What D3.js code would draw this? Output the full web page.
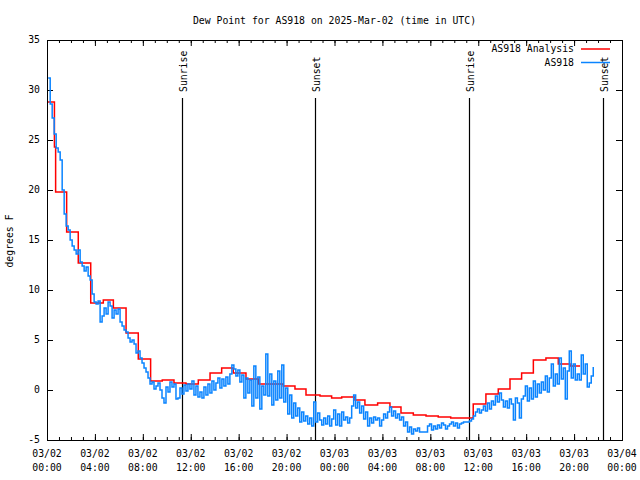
<!DOCTYPE html>
<html><head><meta charset="utf-8">
<script src="https://cdn.jsdelivr.net/npm/d3@7"></script>
<style>body{margin:0;background:#fff}svg{display:block}</style>
</head><body>
<svg id="c" width="640" height="480"></svg>
<script>
// ---------------- data ----------------
const chartTitle = "Dew Point for AS918 on 2025-Mar-02 (time in UTC)";
const yLabel = "degrees F";
const startTime = "2025-03-02T00:00:00Z";
const endTime = "2025-03-04T00:00:00Z";
const yTicks = [-5, 0, 5, 10, 15, 20, 25, 30, 35];
const seriesNames = ["AS918 Analysis", "AS918"];

// analysis (hours after start, value held until the next point)
const analysisHours = [0.08, 0.62, 0.72, 1.64, 2.61, 3.65, 4.70, 5.54, 6.60, 7.62, 8.65, 9.62, 10.60, 11.60, 12.63, 13.61, 14.58, 15.55, 16.61, 17.64, 19.72, 20.70, 21.62, 22.79, 23.76, 24.60, 25.71, 26.54, 27.60, 28.63, 29.55, 30.58, 31.64, 32.66, 33.70, 35.58, 36.64, 37.67, 38.65, 39.62, 40.60, 41.65, 42.68, 43.66, 44.50];
const analysisValues = [28.8, 24.3, 19.8, 15.8, 12.7, 8.7, 9.0, 8.2, 5.7, 3.1, 0.9, 1.0, 0.7, 0.6, 1.0, 1.7, 2.2, 1.7, 1.1, 0.6, 0.4, 0.1, -0.5, -0.6, -0.8, -0.7, -1.0, -1.5, -1.3, -1.7, -2.3, -2.5, -2.6, -2.7, -2.8, -1.4, -0.4, 0.1, 1.1, 1.7, 3.0, 3.2, 2.6, 2.4, 2.4];

// observations: every 10 minutes starting 00:06 UTC
const obsStartMinutes = 6;
const obsStepMinutes = 10;
const obsValues = [
 31.2, 28.6, 27.2, 25.6, 24.2, 23.8, 23.0, 20.0, 17.6, 16.4, 16.0, 15.0, 14.4, 14.0, 13.6, 14.0, 12.8, 12.4, 11.9, 12.3,
 11.4, 11.0, 9.6, 8.8, 8.6, 8.9, 6.8, 7.4, 8.2, 7.6, 8.8, 8.4, 7.2, 8.0, 7.6, 8.1, 6.8, 6.4, 6.0, 5.8,
 5.2, 4.8, 5.0, 4.6, 3.7, 3.9, 3.2, 2.7, 2.2, 1.8, 1.2, 0.6, 0.8, 0.1, 0.4, 0.7, 0.0, -0.8, -1.3, 0.3,
 -0.2, 0.8, 0.3, 0.6, -0.9, -0.8, 0.2, -0.4, 0.5, -0.1, 0.6, 0.1, 0.9, -0.5, 0.4, -0.7, -0.2, -0.8, 0.3, -0.5,
 0.6, -0.3, 0.9, 0.0, 0.7, 1.2, 0.2, 1.1, 0.4, 1.3, 0.6, 1.6, 2.5, 2.1, 1.4, 2.0, 0.8, 1.5, -0.8, 1.2,
 -0.3, 1.0, -1.6, 2.4, -0.8, 1.3, -1.9, 0.4, -0.5, 3.6, -0.6, 1.6, -1.5, 0.9, -1.0, 1.9, -0.8, 2.5, -1.2, 0.2,
 -2.4, -0.5, -2.8, -1.3, -2.6, -1.8, -3.2, -2.2, -3.1, -2.6, -3.4, -2.8, -3.6, -1.2, -3.2, -2.3, -3.0, -3.5, -2.8, -3.4,
 -2.6, -3.6, -2.9, -2.0, -3.5, -2.4, -3.6, -2.2, -3.0, -2.7, -3.3, -2.8, -1.6, -0.5, -1.8, -1.2, -2.3, -1.6, -2.9, -2.2,
 -3.6, -2.8, -3.3, -2.7, -3.0, -2.8, -3.6, -3.0, -2.4, -2.8, -2.2, -1.7, -2.6, -2.1, -2.8, -2.4, -3.0, -2.7, -3.6, -3.2,
 -4.2, -3.7, -4.4, -3.9, -4.1, -3.8, -4.2, -4.2, -4.2, -4.2, -3.6, -3.4, -4.0, -3.6, -3.9, -3.5, -3.8, -3.3, -3.5, -3.9,
 -3.6, -3.4, -3.2, -3.6, -3.3, -3.8, -3.4, -3.3, -3.2, -3.2, -3.2, -3.1, -2.9, -2.6, -2.2, -1.9, -2.3, -2.0, -1.6, -2.1,
 -1.3, -1.9, -1.1, -1.5, -0.6, -1.2, -0.3, -1.0, -1.7, -1.1, -1.8, -0.9, -1.4, -3.0, -0.8, -1.3, -2.8, -0.9, -0.6, 0.4,
 -1.1, 0.2, -0.9, 0.9, -0.7, 0.6, -0.3, 0.8, 0.0, 1.4, -0.2, 1.2, 2.6, 0.4, 1.6, 0.6, 3.2, 1.1, 2.2, -0.9,
 1.9, 3.9, 1.2, 2.6, 1.0, 1.6, 1.0, 3.5, 1.6, 2.6, 0.3, 0.7, 1.4, 2.3
];

const eventNames = ["Sunrise", "Sunset", "Sunrise", "Sunset"];
const eventHours = [11.31, 22.40, 35.25, 46.44];

// ---------------- styles ----------------
const FONT = "'DejaVu Sans Mono', 'Liberation Mono', monospace";
const FS = 9.8;
const colorAnalysis = "#ff0000";
const colorObs = "#0a84ff";

// ---------------- layout ----------------
const L = 47, R = 622, T = 40, B = 440;
const svg = d3.select("#c");
const t0 = new Date(startTime), t1 = new Date(endTime);
const hour = 3600 * 1000;
const x = d3.scaleUtc().domain([t0, t1]).range([L, R]);
const y = d3.scaleLinear().domain([-5, 35]).range([B, T]);

const analysis = analysisHours.map((h, i) => ({ t: new Date(+t0 + h * hour), v: analysisValues[i] }));
const obs = obsValues.map((v, i) => ({ t: new Date(+t0 + (obsStartMinutes + i * obsStepMinutes) * 60000), v }));

svg.append("rect").attr("width", 640).attr("height", 480).attr("fill", "#fff");

// axes with inward ticks (major + minor), mirrored
function styleAxis(g) {
  g.select(".domain").remove();
  g.selectAll("line").attr("stroke", "#000").attr("stroke-width", 1);
  g.selectAll("text").remove();
}
const major = d3.utcHour.every(4), minor = d3.utcHour.every(1);
svg.append("g").attr("transform", `translate(0,${B})`).call(d3.axisBottom(x).ticks(minor).tickSize(-3)).call(styleAxis);
svg.append("g").attr("transform", `translate(0,${B})`).call(d3.axisBottom(x).ticks(major).tickSize(-6)).call(styleAxis);
svg.append("g").attr("transform", `translate(0,${T})`).call(d3.axisTop(x).ticks(minor).tickSize(-3)).call(styleAxis);
svg.append("g").attr("transform", `translate(0,${T})`).call(d3.axisTop(x).ticks(major).tickSize(-6)).call(styleAxis);
svg.append("g").attr("transform", `translate(${L},0)`).call(d3.axisLeft(y).tickValues(yTicks).tickSize(-6)).call(styleAxis);
svg.append("g").attr("transform", `translate(${R},0)`).call(d3.axisRight(y).tickValues(yTicks).tickSize(-6)).call(styleAxis);

// y tick labels
svg.append("g").selectAll("text").data(yTicks).join("text")
  .attr("x", L - 7).attr("y", d => y(d)).attr("dy", "0.35em")
  .attr("text-anchor", "end").attr("font-family", FONT).attr("font-size", FS)
  .text(d => d);

// x tick labels (two lines)
const fDate = d3.utcFormat("%m/%d"), fTime = d3.utcFormat("%H:%M");
const xl = svg.append("g").selectAll("text").data(x.ticks(major)).join("text")
  .attr("text-anchor", "middle").attr("font-family", FONT).attr("font-size", FS);
xl.append("tspan").attr("x", d => x(d)).attr("y", 457).text(d => fDate(d));
xl.append("tspan").attr("x", d => x(d)).attr("y", 471).text(d => fTime(d));

// sunrise / sunset
eventHours.forEach((h, i) => {
  const xx = Math.round(x(new Date(+t0 + h * hour))) + 0.5;
  svg.append("line").attr("x1", xx).attr("x2", xx).attr("y1", 98).attr("y2", B)
    .attr("stroke", "#000").attr("stroke-width", 1.2);
  svg.append("text").attr("transform", `translate(${xx + 4.5},92) rotate(-90)`)
    .attr("font-family", FONT).attr("font-size", FS).text(eventNames[i]);
});

// series
const line = d3.line().x(d => x(d.t)).y(d => y(d.v)).curve(d3.curveStepAfter);
svg.append("path").datum(analysis).attr("d", line)
  .attr("fill", "none").attr("stroke", colorAnalysis).attr("stroke-width", 1.5);
svg.append("path").datum(obs).attr("d", line)
  .attr("fill", "none").attr("stroke", colorObs).attr("stroke-width", 1.5);

// border
svg.append("rect").attr("x", L + 0.5).attr("y", T + 0.5).attr("width", R - L).attr("height", B - T)
  .attr("fill", "none").attr("stroke", "#000").attr("stroke-width", 1);

// title & y label
svg.append("text").attr("x", (L + R) / 2).attr("y", 24).attr("text-anchor", "middle")
  .attr("font-family", FONT).attr("font-size", FS).text(chartTitle);
svg.append("text").attr("transform", `translate(13,241) rotate(-90)`).attr("text-anchor", "middle")
  .attr("font-family", FONT).attr("font-size", FS).text(yLabel);

// legend
[colorAnalysis, colorObs].forEach((c, i) => {
  const yy = 49 + i * 13.5;
  svg.append("text").attr("x", 574).attr("y", yy).attr("dy", "0.35em").attr("text-anchor", "end")
    .attr("font-family", FONT).attr("font-size", FS).text(seriesNames[i]);
  svg.append("line").attr("x1", 581).attr("x2", 610).attr("y1", yy).attr("y2", yy)
    .attr("stroke", c).attr("stroke-width", 1.5);
});
</script>
</body></html>
